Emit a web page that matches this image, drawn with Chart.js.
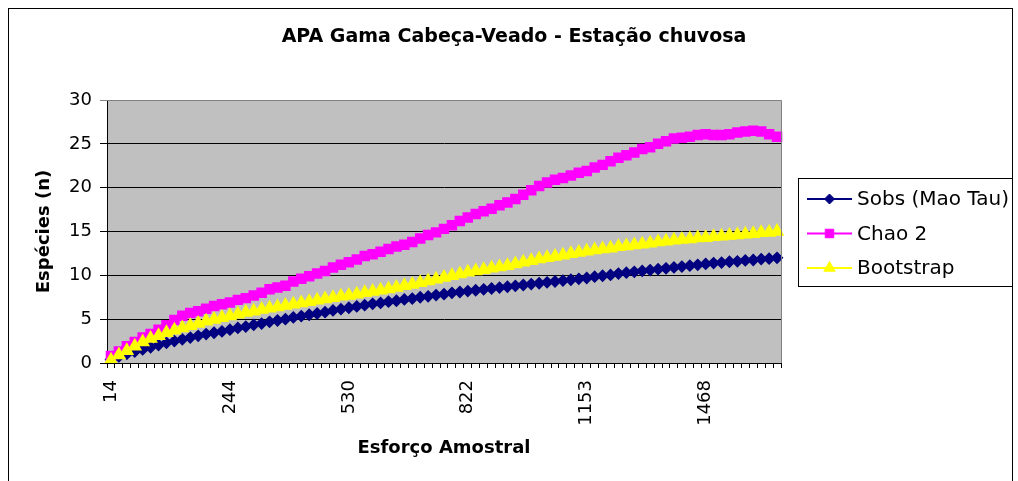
<!DOCTYPE html>
<html>
<head>
<meta charset="utf-8">
<title>APA Gama Cabeça-Veado - Estação chuvosa</title>
<script src="https://cdn.jsdelivr.net/npm/chart.js@4/dist/chart.umd.min.js"></script>
<style>
  body { margin: 0; background: #fff; }
  canvas { display: block; }
</style>
</head>
<body>
<canvas id="curveChart" width="1018" height="481"></canvas>
<script>
// Esforço amostral (categorias do eixo X)
const effort = [
  14, 28, 43, 58, 74, 89, 104, 120, 135, 151, 166, 182, 197, 213, 228,
  244, 263, 282, 301, 320, 339, 358, 377, 396, 416, 435, 454, 473, 492, 511,
  530, 549, 569, 588, 608, 627, 647, 666, 686, 705, 725, 744, 764, 783, 803,
  822, 844, 866, 888, 910, 932, 954, 976, 998, 1020, 1042, 1065, 1087, 1109, 1131,
  1153, 1174, 1195, 1216, 1237, 1258, 1279, 1300, 1321, 1342, 1363, 1384, 1405, 1426, 1447,
  1468, 1489, 1510, 1531, 1552, 1573, 1594, 1615, 1636, 1657
];

const sobs = [
  0.4, 0.75, 1.05, 1.3, 1.55, 1.8, 2.05, 2.3, 2.5, 2.7,
  2.9, 3.1, 3.3, 3.45, 3.6, 3.8, 4.0, 4.15, 4.35, 4.5,
  4.7, 4.85, 5.0, 5.2, 5.35, 5.5, 5.65, 5.8, 6.0, 6.15,
  6.3, 6.45, 6.6, 6.75, 6.85, 7.0, 7.1, 7.25, 7.35, 7.5,
  7.6, 7.75, 7.85, 8.0, 8.1, 8.2, 8.3, 8.4, 8.5, 8.6,
  8.7, 8.8, 8.9, 9.0, 9.1, 9.2, 9.3, 9.4, 9.5, 9.6,
  9.7, 9.85, 9.95, 10.05, 10.2, 10.3, 10.4, 10.5, 10.6, 10.7,
  10.8, 10.9, 11.0, 11.1, 11.2, 11.3, 11.4, 11.45, 11.55, 11.6,
  11.7, 11.75, 11.85, 11.9, 12.0
];

const chao2 = [
  0.8, 1.3, 1.9, 2.4, 2.9, 3.3, 3.8, 4.3, 4.9, 5.4,
  5.7, 5.9, 6.2, 6.5, 6.7, 6.9, 7.2, 7.4, 7.7, 8.0,
  8.4, 8.6, 8.8, 9.3, 9.6, 9.9, 10.2, 10.5, 10.9, 11.2,
  11.5, 11.8, 12.2, 12.4, 12.7, 13.0, 13.3, 13.5, 13.8, 14.2,
  14.6, 14.9, 15.3, 15.7, 16.2, 16.6, 17.0, 17.3, 17.6, 18.0,
  18.3, 18.7, 19.2, 19.7, 20.2, 20.6, 20.9, 21.1, 21.4, 21.7,
  21.9, 22.3, 22.6, 23.0, 23.4, 23.7, 24.0, 24.4, 24.6, 25.0,
  25.3, 25.6, 25.7, 25.8, 26.0, 26.1, 26.0, 26.0, 26.1, 26.3,
  26.4, 26.5, 26.4, 26.1, 25.8
];

const bootstrap = [
  0.3, 0.9, 1.4, 1.9, 2.4, 2.8, 3.1, 3.45, 3.75, 4.0,
  4.25, 4.5, 4.75, 4.95, 5.15, 5.35, 5.55, 5.75, 5.9, 6.1,
  6.25, 6.4, 6.55, 6.7, 6.85, 7.0, 7.15, 7.3, 7.45, 7.6,
  7.7, 7.85, 8.0, 8.15, 8.3, 8.45, 8.6, 8.8, 8.95, 9.15,
  9.35, 9.55, 9.75, 9.95, 10.15, 10.35, 10.5, 10.65, 10.8, 10.95,
  11.1, 11.3, 11.5, 11.65, 11.85, 12.0, 12.15, 12.3, 12.45, 12.6,
  12.75, 12.9, 13.0, 13.1, 13.25, 13.35, 13.45, 13.55, 13.65, 13.8,
  13.9, 14.0, 14.1, 14.15, 14.25, 14.3, 14.4, 14.45, 14.55, 14.6,
  14.7, 14.75, 14.85, 14.9, 15.0
];

const chartTitle = 'APA Gama Cabeça-Veado - Estação chuvosa';
const FONT = 'DejaVu Sans';

// fundo cinza da área de plotagem, bordas e título
const plotArea = {
  id: 'plotArea',
  beforeDraw(chart) {
    const { ctx, chartArea: a } = chart;
    ctx.save();
    ctx.fillStyle = '#c0c0c0';
    ctx.fillRect(a.left, a.top, a.right - a.left, a.bottom - a.top);
    ctx.restore();
  },
  afterDraw(chart) {
    const { ctx, chartArea: a } = chart;
    ctx.save();
    ctx.strokeStyle = '#808080';
    ctx.lineWidth = 1;
    ctx.beginPath();
    ctx.moveTo(a.left, Math.round(a.top) + 0.5);
    ctx.lineTo(Math.round(a.right) + 0.5, Math.round(a.top) + 0.5);
    ctx.lineTo(Math.round(a.right) + 0.5, a.bottom);
    ctx.stroke();
    // moldura externa
    ctx.strokeStyle = '#000';
    ctx.strokeRect(8.5, 8.5, 1004, 480);
    // título centrado na figura inteira, como no Excel
    ctx.fillStyle = '#000';
    ctx.font = 'bold 19px "' + FONT + '"';
    ctx.textAlign = 'center';
    ctx.textBaseline = 'middle';
    ctx.fillText(chartTitle, 514, 37);
    ctx.restore();
  }
};

// legenda com caixa, estilo Excel
const boxLegend = {
  id: 'boxLegend',
  afterDraw(chart) {
    const { ctx } = chart;
    const x0 = 798, y0 = 178, w = 214, h = 108;
    ctx.save();
    ctx.fillStyle = '#fff';
    ctx.fillRect(x0, y0, w, h);
    ctx.strokeStyle = '#000';
    ctx.lineWidth = 1;
    ctx.strokeRect(x0 + 0.5, y0 + 0.5, w, h);
    chart.data.datasets.forEach((ds, i) => {
      const y = y0 + 21 + i * 34.5;
      ctx.strokeStyle = ds.borderColor;
      ctx.lineWidth = 2;
      ctx.beginPath();
      ctx.moveTo(807, y);
      ctx.lineTo(852, y);
      ctx.stroke();
      ctx.fillStyle = ds.pointBackgroundColor;
      ctx.strokeStyle = ds.pointBorderColor;
      ctx.lineWidth = 1;
      Chart.helpers.drawPoint(ctx, {
        pointStyle: ds.pointStyle, radius: ds.pointRadius, rotation: 0, borderWidth: 1
      }, 829.5, y);
      ctx.fillStyle = '#000';
      ctx.font = '20px "' + FONT + '"';
      ctx.textBaseline = 'middle';
      ctx.textAlign = 'left';
      ctx.fillText(ds.label, 857, y + 1);
    });
    ctx.restore();
  }
};

new Chart(document.getElementById('curveChart'), {
  type: 'line',
  data: {
    labels: effort,
    datasets: [{
      label: 'Sobs (Mao Tau)',
      data: sobs,
      borderColor: '#000080',
      pointBackgroundColor: '#000080',
      pointBorderColor: '#000080',
      pointStyle: 'rectRot',
      pointRadius: 5,
      borderWidth: 2,
      order: 3
    }, {
      label: 'Chao 2',
      data: chao2,
      borderColor: '#ff00ff',
      pointBackgroundColor: '#ff00ff',
      pointBorderColor: '#ff00ff',
      pointStyle: 'rect',
      pointRadius: 6,
      borderWidth: 2,
      order: 2
    }, {
      label: 'Bootstrap',
      data: bootstrap,
      borderColor: '#ffff00',
      pointBackgroundColor: '#ffff00',
      pointBorderColor: '#ffff00',
      pointStyle: 'triangle',
      pointRadius: 6.5,
      borderWidth: 2,
      order: 1
    }]
  },
  options: {
    responsive: false,
    animation: false,
    devicePixelRatio: 1,
    layout: { padding: { left: 0, right: 237, top: 100, bottom: 0 } },
    elements: { line: { tension: 0 } },
    plugins: {
      legend: { display: false },
      tooltip: { enabled: false },
      title: { display: false }
    },
    scales: {
      x: {
        offset: true,
        grid: { offset: true, drawOnChartArea: false, drawTicks: true, tickLength: 5, color: '#000' },
        border: { color: '#000', width: 1 },
        ticks: {
          autoSkip: false,
          maxRotation: 90,
          minRotation: 90,
          padding: 12,
          color: '#000',
          font: { family: FONT, size: 18 },
          callback: (v, i) => (i % 15 === 0 ? effort[i] : '')
        },
        title: {
          display: true,
          text: 'Esforço Amostral',
          color: '#000',
          font: { family: FONT, size: 18, weight: 'bold' },
          padding: { top: 4, bottom: 22 }
        },
        afterFit: (s) => { s.height = 118; }
      },
      y: {
        min: 0,
        max: 30,
        grid: { color: (c) => (c.tick.value === 30 ? '#808080' : '#000'), tickLength: 7 },
        border: { color: '#000', width: 1 },
        ticks: {
          stepSize: 5,
          padding: 8,
          color: '#000',
          font: { family: FONT, size: 18 }
        },
        title: {
          display: true,
          text: 'Espécies (n)',
          color: '#000',
          font: { family: FONT, size: 18, weight: 'bold' },
          padding: { top: 34, bottom: 0 }
        },
        afterFit: (s) => { s.width = 107; }
      }
    }
  },
  plugins: [plotArea, boxLegend]
});
</script>
</body>
</html>
